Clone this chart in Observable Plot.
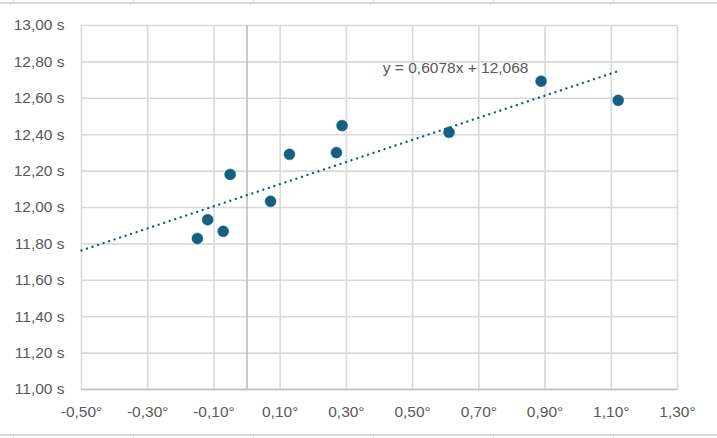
<!DOCTYPE html>
<html>
<head>
<meta charset="utf-8">
<script src="https://cdn.jsdelivr.net/npm/d3@7"></script>
<script src="https://cdn.jsdelivr.net/npm/@observablehq/plot@0.6"></script>
<style>
  html, body { margin: 0; padding: 0; background: #fff; }
  #wrap { position: relative; width: 717px; height: 438px; overflow: hidden; }
  .cell { position: absolute; background: #d9d9d9; }
</style>
</head>
<body>
<div id="wrap"></div>
<script>
// Data
const temp = [-0.150, -0.119, -0.072, -0.051, 0.071, 0.128, 0.270, 0.287, 0.610, 0.888, 1.121];
const time = [11.830, 11.933, 11.869, 12.182, 12.034, 12.292, 12.302, 12.450, 12.413, 12.694, 12.589];

// Trendline equation shown on the chart
const slope = 0.6078;
const intercept = 12.068;
const trendStart = -0.5;
const equationLabel = "y = 0,6078x + 12,068";
const labelPos = [0.41, 12.766];

// Tick values
const xTicks = [-0.5, -0.3, -0.1, 0.1, 0.3, 0.5, 0.7, 0.9, 1.1, 1.3];
const yTicks = [11, 11.2, 11.4, 11.6, 11.8, 12, 12.2, 12.4, 12.6, 12.8, 13];
const xDomain = [-0.5, 1.3];
const yDomain = [11, 13];

const points = temp.map((t, i) => ({x: t, y: time[i]}));
const trendEnd = d3.max(temp);
const trend = [trendStart, trendEnd].map(x => ({x, y: slope * x + intercept}));

const fmtX = d => d.toFixed(2).replace(".", ",") + "°";
const fmtY = d => d.toFixed(2).replace(".", ",") + " s";

const grid = "#d9d9d9";
const axisCol = "#bfbfbf";
const textCol = "#595959";
const blue = "#156082";
const fs = 15.5;

const chart = Plot.plot({
  width: 717,
  height: 438,
  marginLeft: 81,
  marginRight: 40,
  marginTop: 25,
  marginBottom: 49,
  style: {fontFamily: "'Liberation Sans', Arial, sans-serif", fontSize: "15.5px", background: "#fff"},
  x: {domain: xDomain, axis: null},
  y: {domain: yDomain, axis: null},
  marks: [
    Plot.ruleX(xTicks, {stroke: grid, strokeWidth: 1.6}),
    Plot.ruleY(yTicks, {stroke: grid, strokeWidth: 1.6}),
    Plot.ruleX([0], {stroke: axisCol, strokeWidth: 1.6}),
    Plot.ruleY([yDomain[0]], {stroke: axisCol, strokeWidth: 1.6}),
    // tick labels
    Plot.text(xTicks, {x: d => d, y: () => yDomain[0], text: fmtX, lineAnchor: "top", dy: 16, fill: textCol, fontSize: fs}),
    Plot.text(yTicks, {x: () => xDomain[0], y: d => d, text: fmtY, textAnchor: "end", dx: -17, fill: textCol, fontSize: fs}),
    Plot.line(trend, {x: "x", y: "y", stroke: blue, strokeWidth: 2.4, strokeDasharray: "0.01 5.8", strokeLinecap: "round"}),
    Plot.dot(points, {x: "x", y: "y", r: 5.5, fill: blue, stroke: blue, strokeWidth: 0.5}),
    Plot.text([equationLabel], {x: () => labelPos[0], y: () => labelPos[1], text: d => d, textAnchor: "start", fill: textCol, fontSize: fs})
  ]
});

const wrap = document.getElementById("wrap");
wrap.appendChild(chart);

// Spreadsheet cell borders visible around the chart
function cell(style) {
  const d = document.createElement("div");
  d.className = "cell";
  Object.assign(d.style, style);
  wrap.appendChild(d);
}
cell({left: "0px", top: "2px", width: "717px", height: "1.5px"});
cell({left: "0px", top: "434px", width: "717px", height: "1.5px"});
[12.5, 132.5, 252.5, 372.5, 492.5, 612.5].forEach(x => {
  cell({left: x + "px", top: "0px", width: "1px", height: "2px"});
  cell({left: x + "px", top: "435px", width: "1px", height: "3px"});
});
</script>
</body>
</html>
